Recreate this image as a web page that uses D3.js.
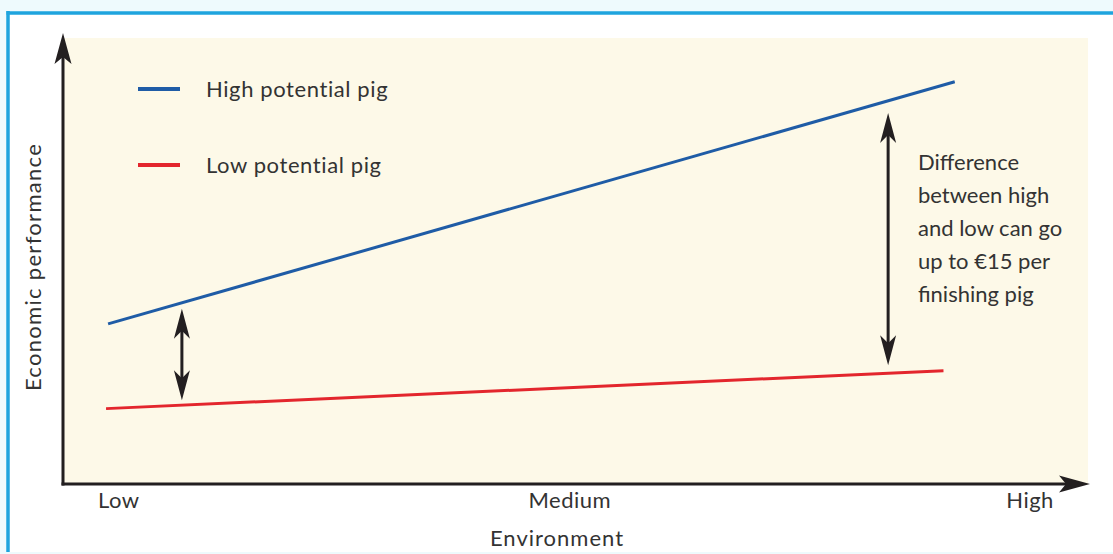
<!DOCTYPE html>
<html>
<head>
<meta charset="utf-8">
<script src="https://cdn.jsdelivr.net/npm/d3@7"></script>
<style>
  html, body { margin: 0; padding: 0; background: #eefafd; }
  svg { display: block; }
  text { font-family: Lato, "Open Sans", sans-serif; fill: #333; }
</style>
</head>
<body>
<svg id="chart" width="1113" height="554"></svg>
<script>
// Environment categories and where they sit on the 0–100 environment scale
const envLabels = ["Low", "Medium", "High"];
const envPositions = [5.4, 49.4, 94.3];

// Economic performance (relative 0–100) of the two pig types across environments
const highPotentialEnv = [4.4, 87.0];
const highPotentialPerf = [35.9, 90.2];
const lowPotentialEnv = [4.2, 85.9];
const lowPotentialPerf = [16.9, 25.4];

// Gap markers between the two lines
const gapEnv = [11.6, 80.5];
const gapLow = [18.8, 26.6];
const gapHigh = [39.3, 83.2];

const legendLabels = ["High potential pig", "Low potential pig"];
const noteLines = ["Difference", "between high", "and low can go", "up to €15 per", "finishing pig"];

const svg = d3.select("#chart");
const W = 1113, H = 554;

// Page frame
svg.append("rect").attr("x", 0).attr("y", 0).attr("width", W).attr("height", H).attr("fill", "#eefafd");
svg.append("rect").attr("x", 8).attr("y", 13).attr("width", W).attr("height", 539).attr("fill", "#ffffff");
svg.append("line").attr("x1", 6.5).attr("x2", W).attr("y1", 13).attr("y2", 13)
  .attr("stroke", "#1ea4de").attr("stroke-width", 3.5);
svg.append("line").attr("x1", 8).attr("x2", 8).attr("y1", 11).attr("y2", 552)
  .attr("stroke", "#1ea4de").attr("stroke-width", 3.5);

// Plot panel
const plot = { left: 63, right: 1088, top: 38, bottom: 484 };
svg.append("rect")
  .attr("x", plot.left).attr("y", plot.top)
  .attr("width", plot.right - plot.left).attr("height", plot.bottom - plot.top)
  .attr("fill", "#fdf9e8");

const x = d3.scaleLinear().domain([0, 100]).range([plot.left, plot.right]);
const y = d3.scaleLinear().domain([0, 100]).range([plot.bottom, plot.top]);

// Notched arrowhead pointing in direction (dx, dy) with its tip at (tx, ty)
function arrowHead(tx, ty, dx, dy, len, half, notch) {
  const px = -dy, py = dx;
  const bx = tx - dx * len, by = ty - dy * len;
  const nx = tx - dx * notch, ny = ty - dy * notch;
  return `M${tx},${ty}L${bx + px * half},${by + py * half}L${nx},${ny}L${bx - px * half},${by - py * half}Z`;
}

const ink = "#231f20";

// Axes with arrow tips
const axes = svg.append("g");
axes.append("line").attr("x1", plot.left).attr("x2", plot.left)
  .attr("y1", plot.bottom + 1.5).attr("y2", 45)
  .attr("stroke", ink).attr("stroke-width", 3);
axes.append("path").attr("d", arrowHead(plot.left, 33, 0, -1, 31, 8.5, 24)).attr("fill", ink);
axes.append("line").attr("x1", plot.left - 1.5).attr("x2", 1078)
  .attr("y1", plot.bottom).attr("y2", plot.bottom)
  .attr("stroke", ink).attr("stroke-width", 3);
axes.append("path").attr("d", arrowHead(1090, plot.bottom, 1, 0, 31, 8.5, 24)).attr("fill", ink);

// Category labels on the environment axis
const xAxis = d3.axisBottom(x)
  .tickValues(envPositions)
  .tickFormat((d, i) => envLabels[i])
  .tickSize(0)
  .tickPadding(8);
const gx = svg.append("g").attr("transform", `translate(0,${plot.bottom})`).call(xAxis);
gx.select(".domain").remove();
gx.selectAll("text").attr("font-size", 22).style("font-family", "Lato, sans-serif")
  .attr("fill", "#333").style("letter-spacing", "0.5px");

// Axis titles
svg.append("text").attr("x", 557).attr("y", 546).attr("text-anchor", "middle")
  .attr("font-size", 22).style("letter-spacing", "1px").text("Environment");
svg.append("text").attr("transform", "translate(41,267) rotate(-90)").attr("text-anchor", "middle")
  .attr("font-size", 22).style("letter-spacing", "1.3px").text("Economic performance");

// Performance lines
const line = d3.line().x(d => x(d[0])).y(d => y(d[1]));
const series = [
  { env: highPotentialEnv, perf: highPotentialPerf, color: "#1f5ca6" },
  { env: lowPotentialEnv, perf: lowPotentialPerf, color: "#e3262d" }
];
svg.append("g").selectAll("path").data(series).join("path")
  .attr("d", s => line(d3.zip(s.env, s.perf)))
  .attr("fill", "none")
  .attr("stroke", s => s.color)
  .attr("stroke-width", 3);

// Double-headed gap arrows
const gaps = svg.append("g");
gapEnv.forEach((e, i) => {
  const gxPix = x(e), top = y(gapHigh[i]), bot = y(gapLow[i]);
  gaps.append("line").attr("x1", gxPix).attr("x2", gxPix)
    .attr("y1", top + 12).attr("y2", bot - 12)
    .attr("stroke", ink).attr("stroke-width", 3);
  gaps.append("path").attr("d", arrowHead(gxPix, top, 0, -1, 30, 8, 22)).attr("fill", ink);
  gaps.append("path").attr("d", arrowHead(gxPix, bot, 0, 1, 30, 8, 22)).attr("fill", ink);
});

// Legend
const legend = svg.append("g");
legendLabels.forEach((lab, i) => {
  const ly = 89 + i * 76;
  legend.append("line").attr("x1", 138).attr("x2", 180).attr("y1", ly).attr("y2", ly)
    .attr("stroke", series[i].color).attr("stroke-width", 4);
  legend.append("text").attr("x", 206).attr("y", ly + 8).attr("font-size", 22)
    .style("letter-spacing", "0.6px").text(lab);
});

// Note beside the right-hand gap arrow
const note = svg.append("text").attr("x", 918).attr("y", 170).attr("font-size", 22);
noteLines.forEach((t, i) => {
  note.append("tspan").attr("x", 918).attr("y", 170 + i * 33).text(t);
});
</script>
</body>
</html>
